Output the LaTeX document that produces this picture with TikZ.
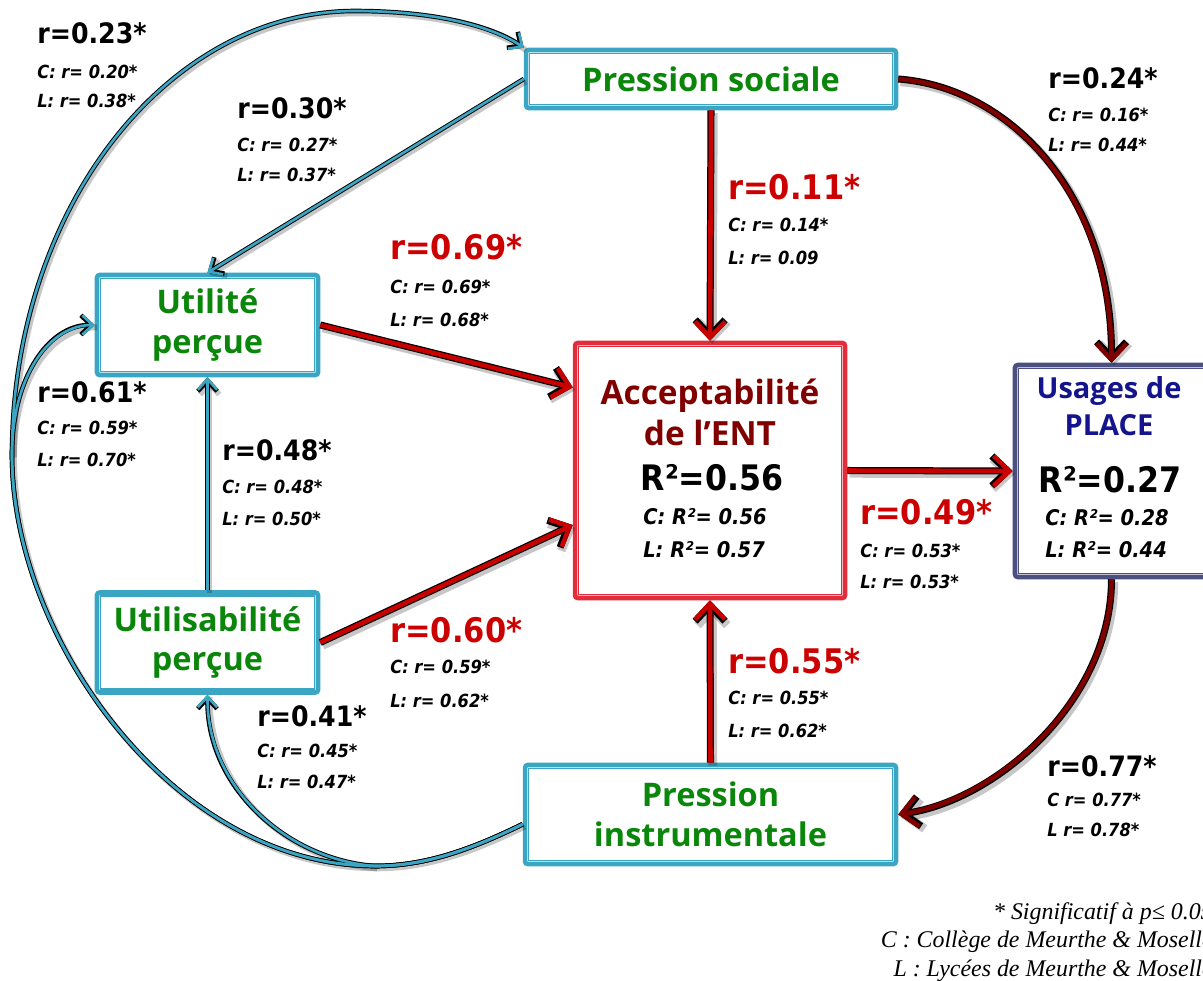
\documentclass[tikz,border=0pt]{standalone}
\usepackage{fontspec}
\setmainfont{DejaVu Sans}
\newfontfamily\nfont{DejaVu Sans Condensed}
\newfontfamily\tfont{Open Sans}
\newfontfamily\ffont{Liberation Serif}
\usetikzlibrary{arrows.meta,calc}
\definecolor{bteal}{RGB}{58,166,196}
\definecolor{tgreen}{RGB}{10,135,10}
\definecolor{ared}{RGB}{200,0,0}
\definecolor{dred}{RGB}{128,0,0}
\definecolor{accred}{RGB}{225,45,60}
\definecolor{accttl}{RGB}{128,0,0}
\definecolor{slate}{RGB}{75,80,128}
\definecolor{navy}{RGB}{20,20,140}
\definecolor{lred}{RGB}{204,0,0}
\tikzset{
  tbox/.style={draw=bteal, line width=2.6pt, rounded corners=1.5pt, fill=white, inner sep=0pt,
    align=center, text=tgreen, font=\tfont\bfseries\fontsize{18.5}{22.7}\selectfont},
  abox/.style={tbox, draw=accred},
  ubox/.style={tbox, draw=slate},
  big/.style={anchor=west, inner sep=0pt, font=\nfont\bfseries\fontsize{16}{18}\selectfont},
  bigr/.style={anchor=west, inner sep=0pt, text=lred, font=\nfont\bfseries\fontsize{19.3}{22}\selectfont},
  sm/.style={anchor=west, inner sep=0pt, font=\nfont\fontsize{10.3}{12}\selectfont\bfseries\itshape},
  smb/.style={anchor=west, inner sep=0pt, font=\nfont\fontsize{12.3}{14}\selectfont\bfseries\itshape},
  rtip/.style={-{Straight Barb[length=9pt,width=17pt]}},
  dtip/.style={rtip},
  ttip/.style={-{Straight Barb[length=6pt,width=11pt]}},
  rshad/.style={draw=black, opacity=0.22, line width=5pt, transform canvas={shift={(1.3pt,-1.6pt)}}},
  dshad/.style={rshad},
  tshad/.style={draw=black, opacity=0.22, line width=3.2pt, transform canvas={shift={(1.2pt,-1.4pt)}}},
  rout/.style={draw=black, line width=4pt, rtip},
  rin/.style={draw=ared, line width=2.6pt, rtip},
  dout/.style={draw=black, line width=4pt, rtip},
  din/.style={draw=dred, line width=2.6pt, rtip},
  tout/.style={draw=black, line width=2.6pt, ttip},
  tin/.style={draw=bteal, line width=1.5pt, ttip},
}
\newcommand\myconn[2]{\draw[#1shad,#1tip] #2; \draw[#1out] #2; \draw[#1in] #2;}
\begin{document}
\begin{tikzpicture}[x=0.02cm,y=-0.02cm]
\useasboundingbox (0,0) rectangle (1203,980);
% boxes
\node[tbox, minimum width=7.4cm, minimum height=1.16cm] (ps) at (711,79) {Pression sociale};
\node[tbox, minimum width=4.42cm, minimum height=2cm] (up) at (207.5,325) {Utilité\\perçue};
\node[tbox, minimum width=4.42cm, minimum height=2cm] (us) at (207.5,642.5) {Utilisabilité\\perçue};
\node[tbox, minimum width=7.42cm, minimum height=1.98cm] (pi) at (710.5,814.5) {Pression\\instrumentale};
\node[abox, minimum width=5.4cm, minimum height=5.1cm] (acc) at (710,470.5) {};
\node[ubox, minimum width=3.86cm, minimum height=4.24cm] (upl) at (1111.5,471) {};
\foreach \n/\c in {ps/bteal,up/bteal,us/bteal,pi/bteal,acc/accred,upl/slate}
  \draw[\c, line width=0.7pt] ([shift={(3.3pt,-3.3pt)}]\n.north west) rectangle ([shift={(-3.3pt,3.3pt)}]\n.south east);
% box contents
\node[inner sep=0pt, align=center, text=accttl, font=\tfont\bfseries\fontsize{19}{23.2}\selectfont] (acct) at (710,412) {Acceptabilité\\de l’ENT};
\node[inner sep=0pt, font=\nfont\bfseries\fontsize{20}{22}\selectfont] (accr) at (712,478) {R²=0.56};
\node[smb] (accc) at (643,517) {C: R²= 0.56};
\node[smb] (accl) at (643,550) {L: R²= 0.57};
\node[inner sep=0pt, align=center, text=navy, font=\tfont\bfseries\fontsize{16.5}{21}\selectfont] (uplt) at (1109,406.5) {Usages de\\PLACE};
\node[inner sep=0pt, font=\nfont\bfseries\fontsize{20}{22}\selectfont] (uplr) at (1110,480) {R²=0.27};
\node[smb] (uplc) at (1045,518) {C: R²= 0.28};
\node[smb] (upll) at (1045,550) {L: R²= 0.44};
% junction coordinates
\coordinate (pis) at ([yshift=-5.5pt]pi.west);
\coordinate (junc) at (375,866);
\coordinate (lj) at (12,455);
\coordinate (topc) at (355,11);
\coordinate (accw1) at ($(acc.north west)!0.18!(acc.south west)$);
\coordinate (accw2) at ($(acc.north west)!0.71!(acc.south west)$);
% teal curves from Pression instrumentale
\draw[tshad] (pis) .. controls (470,850) and (425,866) .. (junc) .. controls (175,866) and (12,640) .. (lj) .. controls (12,210) and (166,11) .. (topc) .. controls (440,11) and (495,28) .. (ps.north west);
\draw[tshad] (lj) .. controls (12,375) and (50,325) .. (up.west);
\draw[tshad] (junc) .. controls (290,860) and (207,790) .. (us.south);
\draw[tout] (pis) .. controls (470,850) and (425,866) .. (junc) .. controls (175,866) and (12,640) .. (lj) .. controls (12,210) and (166,11) .. (topc) .. controls (440,11) and (495,28) .. (ps.north west);
\draw[tout] (pis) .. controls (470,850) and (425,866) .. (junc) .. controls (175,866) and (12,640) .. (lj) .. controls (12,375) and (50,325) .. (up.west);
\draw[tout] (pis) .. controls (470,850) and (425,866) .. (junc) .. controls (290,860) and (207,790) .. (us.south);
\draw[tin] (pis) .. controls (470,850) and (425,866) .. (junc) .. controls (175,866) and (12,640) .. (lj) .. controls (12,210) and (166,11) .. (topc) .. controls (440,11) and (495,28) .. (ps.north west);
\draw[tin] (pis) .. controls (470,850) and (425,866) .. (junc) .. controls (175,866) and (12,640) .. (lj) .. controls (12,375) and (50,325) .. (up.west);
\draw[tin] (pis) .. controls (470,850) and (425,866) .. (junc) .. controls (290,860) and (207,790) .. (us.south);
% straight teal
\myconn{t}{(ps.west) -- (up.north)}
\myconn{t}{(us.north) -- (up.south)}
% red arrows
\myconn{r}{(up.east) -- (accw1)}
\myconn{r}{(us.east) -- (accw2)}
\myconn{r}{(ps.south) -- (acc.north)}
\myconn{r}{(pi.north) -- (acc.south)}
\myconn{r}{(acc.east) -- (upl.west)}
\myconn{d}{(ps.east) .. controls +(110,8) and +(0,-170) .. (upl.north)}
\myconn{d}{(upl.south) .. controls +(0,120) and +(100,-15) .. (pi.east)}
% labels
\node[big] (a1) at (37,33) {r=0.23*};
\node[sm] (a2) at (37,72) {C: r= 0.20*};
\node[sm] (a3) at (37,101) {L: r= 0.38*};
\node[big] (b1) at (237,108) {r=0.30*};
\node[sm] (b2) at (237,145) {C: r= 0.27*};
\node[sm] (b3) at (237,175) {L: r= 0.37*};
\node[bigr] (c1) at (390,247) {r=0.69*};
\node[sm] (c2) at (390,287) {C: r= 0.69*};
\node[sm] (c3) at (390,320) {L: r= 0.68*};
\node[bigr] (d1) at (728,187) {r=0.11*};
\node[sm] (d2) at (728,225) {C: r= 0.14*};
\node[sm] (d3) at (728,258) {L: r= 0.09};
\node[big] (e1) at (1048,78) {r=0.24*};
\node[sm] (e2) at (1048,115) {C: r= 0.16*};
\node[sm] (e3) at (1048,145) {L: r= 0.44*};
\node[big] (f1) at (37,392) {r=0.61*};
\node[sm] (f2) at (37,428) {C: r= 0.59*};
\node[sm] (f3) at (37,460) {L: r= 0.70*};
\node[big] (g1) at (222,450) {r=0.48*};
\node[sm] (g2) at (222,487) {C: r= 0.48*};
\node[sm] (g3) at (222,519) {L: r= 0.50*};
\node[bigr] (h1) at (860,512) {r=0.49*};
\node[sm] (h2) at (860,551) {C: r= 0.53*};
\node[sm] (h3) at (860,582) {L: r= 0.53*};
\node[bigr] (i1) at (390,630) {r=0.60*};
\node[sm] (i2) at (390,667) {C: r= 0.59*};
\node[sm] (i3) at (390,701) {L: r= 0.62*};
\node[big] (j1) at (257,716) {r=0.41*};
\node[sm] (j2) at (257,751) {C: r= 0.45*};
\node[sm] (j3) at (257,782) {L: r= 0.47*};
\node[bigr] (k1) at (728,661) {r=0.55*};
\node[sm] (k2) at (728,698) {C: r= 0.55*};
\node[sm] (k3) at (728,731) {L: r= 0.62*};
\node[big] (m1) at (1047,766) {r=0.77*};
\node[sm] (m2) at (1047,800) {C r= 0.77*};
\node[sm] (m3) at (1047,830) {L r= 0.78*};
% footer
\node[anchor=east, align=right, inner sep=0pt, font=\ffont\itshape\fontsize{13.6}{16.4}\selectfont] (foot) at (1213,942)
  {* Significatif à p≤ 0.05\\C : Collège de Meurthe \& Moselle\\L : Lycées de Meurthe \& Moselle};
\end{tikzpicture}
\end{document}
